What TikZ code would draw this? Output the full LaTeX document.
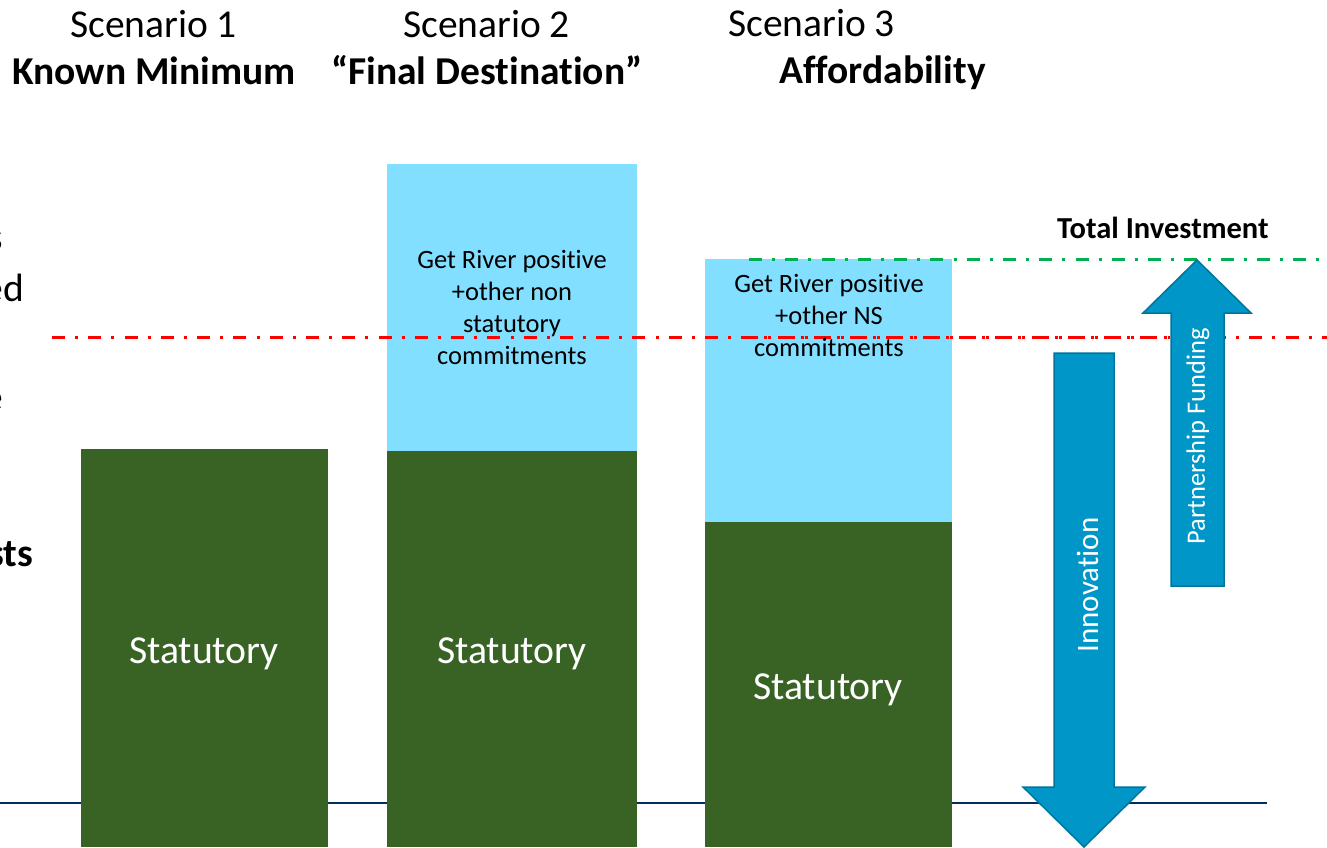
\documentclass[tikz,border=0pt]{standalone}
\usepackage{fontspec}
\setmainfont[Ligatures=NoCommon]{Carlito}
\definecolor{grn}{HTML}{386324}
\definecolor{lblue}{HTML}{83DFFF}
\definecolor{arrowb}{HTML}{0096C8}
\definecolor{arrowe}{HTML}{00749C}
\definecolor{navy}{HTML}{002F5F}
\definecolor{greenl}{HTML}{00B050}
\tikzset{
 px/.style={x=1pt,y=-1pt},
 bargreen/.style={fill=grn,draw=none},
 barblue/.style={fill=lblue,draw=none},
 head/.style={font=\fontsize{39.5}{44}\selectfont,inner sep=0pt,anchor=base west},
 headb/.style={font=\fontsize{39.5}{44}\selectfont\bfseries,inner sep=0pt,anchor=base west},
 stat/.style={font=\fontsize{39.7}{44}\selectfont,text=white,inner sep=0pt,anchor=base},
 small/.style={font=\fontsize{26.5}{32}\selectfont,align=center,inner sep=0pt},
 fat/.style={fill=arrowb,draw=arrowe,line width=1.5pt,line join=miter},
 dashdot/.style={line width=3.4pt,dash pattern=on 13pt off 10.14pt on 3pt off 10.14pt}
}
\begin{document}
\begin{tikzpicture}[px]
\useasboundingbox (0,0) rectangle (1327,847);
\coordinate (axisL) at (0,803); \coordinate (axisR) at (1267,803);
\draw[navy,line width=2pt] (axisL) -- (axisR);
\node[bargreen,minimum width=247pt,minimum height=398pt,inner sep=0pt] (b1) at (204.5,648) {};
\node[barblue,minimum width=250pt,minimum height=287pt,inner sep=0pt] (c2) at (512,307.5) {};
\node[bargreen,minimum width=250pt,minimum height=396pt,inner sep=0pt] (b2) at (512,649) {};
\node[barblue,minimum width=247pt,minimum height=263pt,inner sep=0pt] (c3) at (828.5,390.5) {};
\node[bargreen,minimum width=247pt,minimum height=325pt,inner sep=0pt] (b3) at (828.5,684.5) {};
% dash lines
\coordinate (rL) at (52,337.7); \coordinate (rR) at (1327,337.7);
\coordinate (r2L) at (745.3,337.7); \coordinate (r2R) at (1170,337.7);
\coordinate (gL) at (749,259.7); \coordinate (gR) at (1327,259.7);
\draw[red,dashdot] (rL) -- (rR);
\draw[red,dashdot] (r2L) -- (r2R);
\draw[greenl,dashdot] (gL) -- (gR);
% arrows
\path[fat] (1054,353) -- (1114,353) -- (1114,787) -- (1145,787) -- (1084,847) -- (1023,787) -- (1054,787) -- cycle;
\path[fat] (1171,586) -- (1171,313) -- (1143,313) -- (1197,260) -- (1251,313) -- (1224,313) -- (1224,586) -- cycle;
\node[rotate=90,font=\fontsize{31}{34}\selectfont,text=white,inner sep=0pt] (inn) at (1088,585) {Innovation};
\node[rotate=90,font=\fontsize{26.5}{30}\selectfont,text=white,inner sep=0pt] (pf) at (1198,436) {Partnership Funding};
% text
\node[head] (s1) at (70,37) {Scenario 1};
\node[head] (s2) at (403,37) {Scenario 2};
\node[head] (s3) at (728,36) {Scenario 3};
\node[headb] (k1) at (12,84.5) {Known Minimum};
\node[headb] (k2) at (331,84.5) {“Final Destination”};
\node[headb] (k3) at (779,83.5) {Affordability};
\node[font=\fontsize{30.5}{34}\selectfont\bfseries,inner sep=0pt,anchor=base west] (ti) at (1057,238) {Total Investment};
\node[stat] (t1) at (204,663) {Statutory};
\node[stat] (t2) at (512,663) {Statutory};
\node[stat] (t3) at (828,699) {Statutory};
\node[small] (g2) at (512,307.5) {Get River positive\\+other non\\statutory\\commitments};
\node[small] (g3) at (829,315) {Get River positive\\+other NS\\commitments};
% clipped left labels
\node[font=\fontsize{39.5}{44}\selectfont,inner sep=0pt,anchor=base east] (l1) at (3,250) {s};
\node[font=\fontsize{39.5}{44}\selectfont,inner sep=0pt,anchor=base east] (l2) at (24,301) {ed};
\node[font=\fontsize{39.5}{44}\selectfont,inner sep=0pt,anchor=base east] (l3) at (3,410) {e};
\node[font=\fontsize{39.5}{44}\selectfont\bfseries,inner sep=0pt,anchor=base east] (l4) at (33.5,566) {sts};
\end{tikzpicture}
\end{document}
